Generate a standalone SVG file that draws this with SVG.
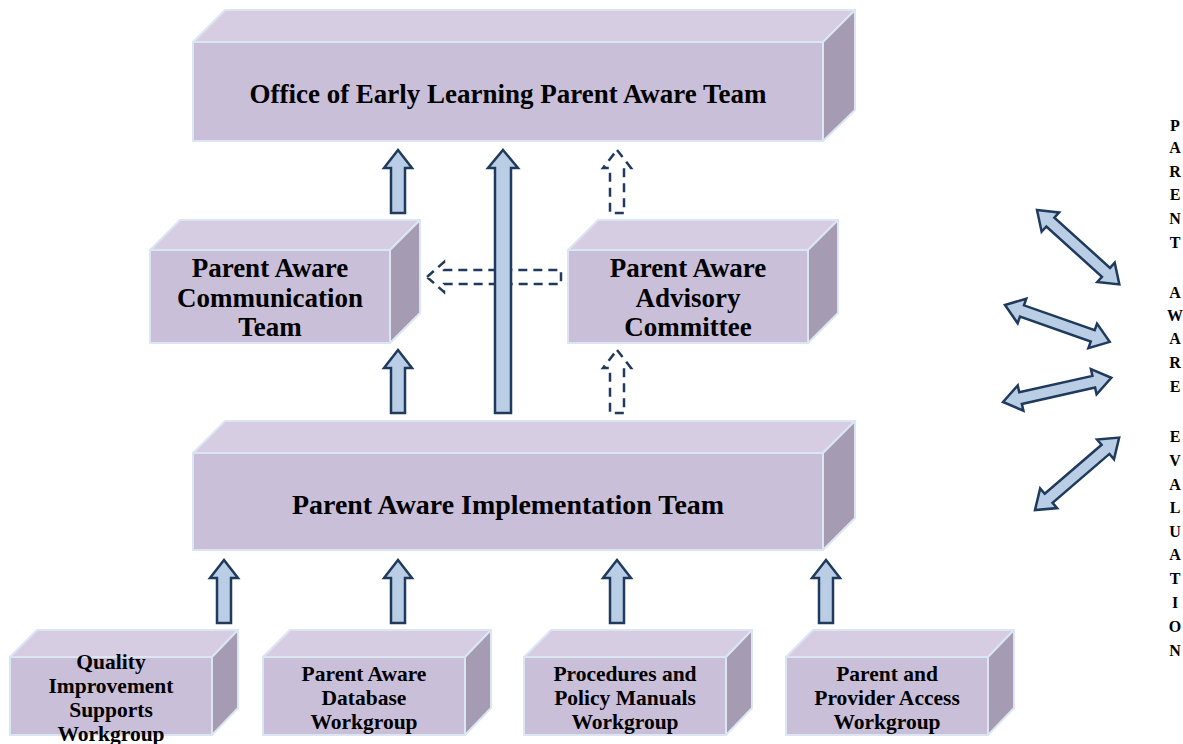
<svg xmlns="http://www.w3.org/2000/svg" width="1183" height="744" viewBox="0 0 1183 744">
  <style>
    .front { fill: #cabfd9; stroke: #dce6f2; stroke-width: 2; stroke-linejoin: round; }
    .top { fill: #d7cde2; stroke: #dce6f2; stroke-width: 2; stroke-linejoin: round; }
    .side { fill: #a59bb2; stroke: #dce6f2; stroke-width: 2; stroke-linejoin: round; }
    .lbl { font-family: "Liberation Serif", "DejaVu Serif", serif; font-weight: bold; fill: #000; text-anchor: middle; }
    .big { font-size: 27.5px; }
    .mid { font-size: 27px; }
    .small { font-size: 21.5px; }
    .vert { font-family: "Liberation Serif", "DejaVu Serif", serif; font-weight: bold; font-size: 16px; fill: #000; text-anchor: middle; }
    .solid { fill: #b9cde4; stroke: #1f3a5c; stroke-width: 2.5; stroke-linejoin: miter; }
    .dashed { fill: none; stroke: #1f3a5c; stroke-width: 2.5; stroke-dasharray: 9 6; }
  </style>
  <defs>
    <!-- double-headed block arrow along +x, length 111 -->
    <path id="dbl" d="M0,0 L18,-13 L18,-6 L93,-6 L93,-13 L111,0 L93,13 L93,6 L18,6 L18,13 Z"/>
  </defs>
  <rect width="1183" height="744" fill="#ffffff"/>

  <g id="office">
    <polygon class="top" points="193,42 225,10 855,10 823,42"/>
    <polygon class="side" points="823,42 855,10 855,110 823,141"/>
    <rect class="front" x="193" y="42" width="630" height="99"/>
    <text class="lbl big" x="508" y="103" textLength="517" lengthAdjust="spacingAndGlyphs">Office of Early Learning Parent Aware Team</text>
  </g>

  <g id="communication">
    <polygon class="top" points="150,250 180,220 420,220 390,250"/>
    <polygon class="side" points="390,250 420,220 420,313 390,343"/>
    <rect class="front" x="150" y="250" width="240" height="93"/>
    <text class="lbl mid" x="270" y="277">Parent Aware</text>
    <text class="lbl mid" x="270" y="307">Communication</text>
    <text class="lbl mid" x="270" y="336">Team</text>
  </g>

  <g id="advisory">
    <polygon class="top" points="568,250 598,220 838,220 808,250"/>
    <polygon class="side" points="808,250 838,220 838,313 808,343"/>
    <rect class="front" x="568" y="250" width="240" height="93"/>
    <text class="lbl mid" x="688" y="277">Parent Aware</text>
    <text class="lbl mid" x="688" y="307">Advisory</text>
    <text class="lbl mid" x="688" y="336">Committee</text>
  </g>

  <g id="implementation">
    <polygon class="top" points="193,453 225,421 855,421 823,453"/>
    <polygon class="side" points="823,453 855,421 855,518 823,550"/>
    <rect class="front" x="193" y="453" width="630" height="97"/>
    <text class="lbl big" x="508" y="514" textLength="432" lengthAdjust="spacingAndGlyphs">Parent Aware Implementation Team</text>
  </g>

  <g id="quality">
    <polygon class="top" points="10,657 37,630 238,630 212,657"/>
    <polygon class="side" points="212,657 238,630 238,708 212,735"/>
    <rect class="front" x="10" y="657" width="202" height="78"/>
    <text class="lbl small" x="111" y="669">Quality</text>
    <text class="lbl small" x="111" y="693">Improvement</text>
    <text class="lbl small" x="111" y="717">Supports</text>
    <text class="lbl small" x="111" y="741">Workgroup</text>
  </g>

  <g id="database">
    <polygon class="top" points="263,657 290,630 491,630 465,657"/>
    <polygon class="side" points="465,657 491,630 491,708 465,735"/>
    <rect class="front" x="263" y="657" width="202" height="78"/>
    <text class="lbl small" x="364" y="681">Parent Aware</text>
    <text class="lbl small" x="364" y="705">Database</text>
    <text class="lbl small" x="364" y="729">Workgroup</text>
  </g>

  <g id="procedures">
    <polygon class="top" points="524,657 551,630 752,630 726,657"/>
    <polygon class="side" points="726,657 752,630 752,708 726,735"/>
    <rect class="front" x="524" y="657" width="202" height="78"/>
    <text class="lbl small" x="625" y="681">Procedures and</text>
    <text class="lbl small" x="625" y="705">Policy Manuals</text>
    <text class="lbl small" x="625" y="729">Workgroup</text>
  </g>

  <g id="access">
    <polygon class="top" points="786,657 813,630 1014,630 988,657"/>
    <polygon class="side" points="988,657 1014,630 1014,708 988,735"/>
    <rect class="front" x="786" y="657" width="202" height="78"/>
    <text class="lbl small" x="887" y="681">Parent and</text>
    <text class="lbl small" x="887" y="705">Provider Access</text>
    <text class="lbl small" x="887" y="729">Workgroup</text>
  </g>

  <g id="evaluation">
    <text class="vert" x="1175" y="131">P</text>
    <text class="vert" x="1175" y="153">A</text>
    <text class="vert" x="1175" y="177">R</text>
    <text class="vert" x="1175" y="200">E</text>
    <text class="vert" x="1175" y="224">N</text>
    <text class="vert" x="1175" y="248">T</text>
    <text class="vert" x="1175" y="298">A</text>
    <text class="vert" x="1175" y="321">W</text>
    <text class="vert" x="1175" y="344">A</text>
    <text class="vert" x="1175" y="368">R</text>
    <text class="vert" x="1175" y="392">E</text>
    <text class="vert" x="1175" y="442">E</text>
    <text class="vert" x="1175" y="466">V</text>
    <text class="vert" x="1175" y="490">A</text>
    <text class="vert" x="1175" y="513">L</text>
    <text class="vert" x="1175" y="537">U</text>
    <text class="vert" x="1175" y="560">A</text>
    <text class="vert" x="1175" y="584">T</text>
    <text class="vert" x="1175" y="608">I</text>
    <text class="vert" x="1175" y="632">O</text>
    <text class="vert" x="1175" y="656">N</text>
  </g>

  <g id="connectors">
    <!-- dashed advisory links -->
    <path class="dashed" d="M427,277 L444,262 L444,270 L561,270 L561,284 L444,284 L444,292 Z"/>
    <path class="dashed" d="M617,150 L631,168 L624,168 L624,213 L610,213 L610,168 L603,168 Z"/>
    <path class="dashed" d="M617,350 L631,368 L624,368 L624,413 L610,413 L610,368 L603,368 Z"/>
    <!-- solid reporting links -->
    <path class="solid" d="M398,150 L412,168 L405,168 L405,213 L391,213 L391,168 L384,168 Z"/>
    <path class="solid" d="M503,150 L518,168 L511,168 L511,413 L495,413 L495,168 L488,168 Z"/>
    <path class="solid" d="M398,350 L412,368 L405,368 L405,413 L391,413 L391,368 L384,368 Z"/>
    <path class="solid" d="M224,560 L238,578 L231,578 L231,623 L217,623 L217,578 L210,578 Z"/>
    <path class="solid" d="M398,560 L412,578 L405,578 L405,623 L391,623 L391,578 L384,578 Z"/>
    <path class="solid" d="M617,560 L631,578 L624,578 L624,623 L610,623 L610,578 L603,578 Z"/>
    <path class="solid" d="M826,560 L840,578 L833,578 L833,623 L819,623 L819,578 L812,578 Z"/>
    <!-- evaluation links -->
    <use href="#dbl" class="solid" transform="translate(1037,210) rotate(42.1)"/>
    <use href="#dbl" class="solid" transform="translate(1005,305) rotate(19.4)"/>
    <use href="#dbl" class="solid" transform="translate(1003,402) rotate(-12.6)"/>
    <use href="#dbl" class="solid" transform="translate(1035,510) rotate(-40.7)"/>
  </g>
</svg>
